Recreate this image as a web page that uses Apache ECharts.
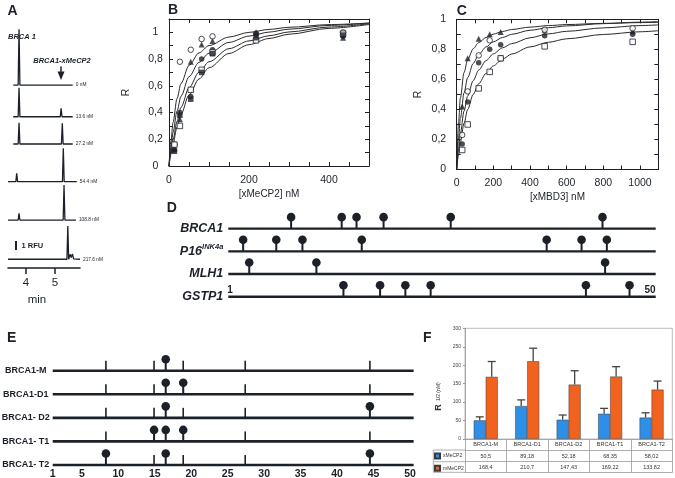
<!DOCTYPE html>
<html><head><meta charset="utf-8">
<script src="https://cdn.jsdelivr.net/npm/echarts@6.0.0/dist/echarts.min.js"></script>
<style>html,body{margin:0;padding:0;background:#fff;}#c{width:675px;height:478px;}</style>
</head><body><div id="c"></div>
<script>
// ---------- Panel A : electropherograms (RFU vs min) ----------
const traceLabels   = ['0 nM', '13.6 nM', '27.2 nM', '54.4 nM', '108.8 nM', '217.6 nM'];
const traceOffsets  = [20.33, 16.81, 13.78, 9.59, 5.33, 0.97];
const traceStart    = [3.56, 3.56, 3.56, 3.38, 3.38, 3.38];
const traceEnd      = [5.61, 5.61, 5.61, 5.75, 5.72, 5.86];
const freeTime      = [3.76, 3.76, 3.76, 3.68, 3.76, null];
const freeHeight    = [6.19, 3.22, 2.37, 0.93, 0.74, 0];
const complexTime   = [null, 5.21, 5.25, 5.285, 5.31, 5.44];
const complexHeight = [0, 0.93, 2.3, 3.71, 3.89, 3.7];
const trace6Tail    = [[5.49, 0.1], [5.52, 0.55], [5.56, 0.2], [5.6, 0.6], [5.64, 0.05]];
const timeTicks     = [4, 5];

// ---------- Panel B : R vs [xMeCP2] ----------
const bConc         = [13.6, 27.2, 54.4, 81.6, 108.8, 217.6, 435.2];
const bOpenCircle   = [0.16, 0.78, 0.87, 0.95, 0.97, 0.99, 1.00];
const bTriangle     = [0.13, 0.35, 0.78, 0.91, 0.935, 1.00, 0.96];
const bFilledCircle = [0.12, 0.40, 0.52, 0.80, 0.87, 0.99, 0.97];
const bOpenSquare   = [0.16, 0.30, 0.57, 0.72, 0.85, 0.94, 0.99];
const bFilledSquare = [0.11, 0.38, 0.50, 0.70, 0.84, 0.96, 0.98];
const bCurveX = [0, 5, 10, 20, 30, 50, 75, 100, 150, 200, 250, 300, 400, 500];
const bCurve1 = [0, 0.19, 0.325, 0.504, 0.617, 0.753, 0.846, 0.901, 0.965, 1.0, 1.022, 1.038, 1.058, 1.070];
const bCurve2 = [0, 0.140, 0.25, 0.411, 0.522, 0.668, 0.776, 0.844, 0.925, 0.972, 1.002, 1.024, 1.052, 1.069];
const bCurve3 = [0, 0.106, 0.195, 0.334, 0.439, 0.585, 0.702, 0.78, 0.878, 0.936, 0.975, 1.003, 1.04, 1.064];
const bCurve4 = [0, 0.089, 0.165, 0.29, 0.388, 0.531, 0.651, 0.735, 0.842, 0.908, 0.954, 0.986, 1.03, 1.059];

// ---------- Panel C : R vs [xMBD3] ----------
const cConc         = [30, 60, 120, 180, 240, 480, 960];
const cTriangle     = [0.42, 0.74, 0.87, 0.90, 0.915, 0.93, 0.92];
const cOpenCircle   = [0.23, 0.52, 0.76, 0.86, 0.74, 0.93, 0.94];
const cFilledCircle = [0.17, 0.45, 0.71, 0.80, 0.83, 0.89, 0.90];
const cOpenSquare   = [0.13, 0.30, 0.54, 0.65, 0.74, 0.82, 0.85];
const cCurveX = [0, 10, 20, 40, 60, 90, 120, 160, 200, 250, 300, 400, 500, 600, 800, 1000, 1100];
const cCurve1 = [0, 0.313, 0.476, 0.645, 0.732, 0.804, 0.845, 0.879, 0.901, 0.919, 0.932, 0.948, 0.958, 0.965, 0.973, 0.978, 0.980];
const cCurve2 = [0, 0.204, 0.34, 0.51, 0.612, 0.706, 0.765, 0.816, 0.85, 0.879, 0.90, 0.927, 0.944, 0.956, 0.971, 0.981, 0.984];
const cCurve3 = [0, 0.136, 0.24, 0.389, 0.49, 0.592, 0.662, 0.725, 0.77, 0.81, 0.838, 0.877, 0.903, 0.92, 0.943, 0.958, 0.963];
const cCurve4 = [0, 0.1, 0.182, 0.308, 0.40, 0.50, 0.571, 0.64, 0.69, 0.735, 0.769, 0.816, 0.847, 0.87, 0.899, 0.917, 0.924];

// ---------- Panel D : CpG maps ----------
const dGenes   = ['BRCA1', 'P16', 'MLH1', 'GSTP1'];
const dGeneSup = ['', 'INK4a', '', ''];
const dSites = [
  [8.2, 14.0, 15.7, 18.8, 26.5, 43.9],
  [2.7, 6.5, 9.5, 16.3, 37.5, 41.5, 44.4],
  [3.4, 11.1, 44.2],
  [14.2, 18.4, 21.3, 24.2, 42.0, 47.0]
];

// ---------- Panel E : methylated BRCA1 probes ----------
const eClones = ['BRCA1-M', 'BRCA1-D1', 'BRCA1- D2', 'BRCA1- T1', 'BRCA1- T2'];
const eSites  = [8.3, 14.9, 16.5, 18.9, 27.4, 44.5];
const eMethylated = [
  [0, 0, 1, 0, 0, 0],
  [0, 0, 1, 1, 0, 0],
  [0, 0, 1, 0, 0, 1],
  [0, 1, 1, 1, 0, 0],
  [1, 0, 1, 0, 0, 1]
];
const ePosTicks = [1, 5, 10, 15, 20, 25, 30, 35, 40, 45, 50];

// ---------- Panel F : R1/2 bars ----------
const fClones   = ['BRCA1-M', 'BRCA1-D1', 'BRCA1-D2', 'BRCA1-T1', 'BRCA1-T2'];
const fXMeCP2   = [50.5, 89.18, 52.18, 68.35, 58.02];
const fMMeCP2   = [168.4, 210.7, 147.43, 169.22, 133.82];
const fXErrTop  = [60, 106, 65, 83, 71];
const fMErrTop  = [210, 246, 185, 196, 157];

// ================= build =================
const ink = '#1b2029';
const FF = 'Liberation Sans';
const chart = echarts.init(document.getElementById('c'));

function commaLabel(v) {
  const r = Math.round(v * 10) / 10;
  if (Math.round(r * 10) % 2 !== 0) return '';
  return String(r).replace('.', ',');
}
function frameAxis(o) {
  return Object.assign({
    type: 'value', splitLine: { show: false },
    axisLine: { show: true, onZero: false, lineStyle: { color: ink, width: 1 } },
    axisTick: { show: true, inside: true, length: 4, lineStyle: { color: ink, width: 1 } },
    axisLabel: { show: false }
  }, o);
}
const tableComma = v => String(v).replace('.', ',');

// A traces
const traceSeries = traceLabels.map((lab, i) => {
  const o = traceOffsets[i];
  const pts = [[traceStart[i], o]];
  [[freeTime[i], freeHeight[i]], [complexTime[i], complexHeight[i]]].forEach(([t, h]) => {
    if (t != null && h > 0) pts.push([t - 0.03, o], [t, o + h], [t + 0.03, o]);
  });
  if (i === 5) trace6Tail.forEach(([t, h]) => pts.push([t, o + h]));
  pts.push([traceEnd[i], o]);
  return {
    type: 'line', name: lab, xAxisIndex: 0, yAxisIndex: 0, data: pts, showSymbol: false,
    lineStyle: { color: ink, width: 1.3 }, silent: true,
    endLabel: { show: true, formatter: '{a}', fontSize: 4.8, color: ink, distance: 3, fontFamily: FF }
  };
});

function curve(xs, ys, xi, yi) {
  return { type: 'line', xAxisIndex: xi, yAxisIndex: yi, data: xs.map((x, k) => [x, ys[k]]),
    showSymbol: false, smooth: 0.3, smoothMonotone: 'x', lineStyle: { color: '#2a2a2a', width: 1 }, silent: true };
}
function marks(xs, ys, xi, yi, symbol, open) {
  return { type: 'scatter', xAxisIndex: xi, yAxisIndex: yi, data: xs.map((x, k) => [x, ys[k]]),
    symbol: symbol, symbolSize: symbol === 'triangle' ? 6 : 5.5, z: 5,
    itemStyle: open ? { color: '#fff', borderColor: ink, borderWidth: 1 } : { color: ink } };
}

function rowItem(width) {
  return (params, api) => {
    const a = api.coord([api.value(0), api.value(2)]);
    const b = api.coord([api.value(1), api.value(2)]);
    return { type: 'line', shape: { x1: a[0], y1: a[1], x2: b[0], y2: b[1] }, style: { stroke: ink, lineWidth: width } };
  };
}
function siteItem(params, api) {
  const p = api.coord([api.value(0), api.value(1)]);
  if (api.value(2)) {
    return { type: 'group', children: [
      { type: 'line', shape: { x1: p[0], y1: p[1], x2: p[0], y2: p[1] - 11 }, style: { stroke: ink, lineWidth: 2 } },
      { type: 'circle', shape: { cx: p[0], cy: p[1] - 11.5, r: 4.3 }, style: { fill: ink } }
    ] };
  }
  return { type: 'line', shape: { x1: p[0], y1: p[1], x2: p[0], y2: p[1] - 10 }, style: { stroke: ink, lineWidth: 1.6 } };
}
function errItem(offset) {
  return (params, api) => {
    const i = api.value(0);
    const a = api.coord([i, api.value(1)]);
    const b = api.coord([i, api.value(2)]);
    const x = a[0] + offset;
    return { type: 'group', children: [
      { type: 'line', shape: { x1: x, y1: a[1], x2: x, y2: b[1] }, style: { stroke: '#444', lineWidth: 1.3 } },
      { type: 'line', shape: { x1: x - 4, y1: b[1], x2: x + 4, y2: b[1] }, style: { stroke: '#444', lineWidth: 1.3 } }
    ] };
  };
}

const dRows = dGenes.map((g, i) => [1, 50, 3 - i]);
const dPins = [];
dSites.forEach((arr, gi) => arr.forEach(p => dPins.push([p, 3 - gi, 1])));
const eRows = eClones.map((c, i) => [1, 50.5, 4 - i]);
const ePins = [];
eMethylated.forEach((row, ri) => row.forEach((m, si) => ePins.push([eSites[si], 4 - ri, m])));

const txt = (x, y, text, size, opts) => ({
  type: 'text', x: x, y: y, silent: true,
  style: Object.assign({ text: text, fill: ink, fontSize: size, fontWeight: 'bold', fontFamily: FF, align: 'center', verticalAlign: 'middle' }, opts || {})
});

const option = {
  animation: false,
  backgroundColor: '#fff',
  textStyle: { fontFamily: FF },
  grid: [
    { left: 8, top: 20, width: 72, height: 248, outerBoundsMode: 'none' },
    { left: 169, top: 19, width: 200, height: 147, outerBoundsMode: 'none' },
    { left: 456.7, top: 19.3, width: 201.6, height: 150.2, outerBoundsMode: 'none' },
    { left: 228.3, top: 217.3, width: 427.4, height: 79.4, outerBoundsMode: 'none' },
    { left: 52.7, top: 358.9, width: 357.3, height: 106.1, outerBoundsMode: 'none' },
    { left: 465, top: 328.3, width: 207.3, height: 110.7, show: true, borderColor: '#aaa', borderWidth: 0.8, outerBoundsMode: 'none' }
  ],
  legend: {
    data: [{ name: 'xMeCP2', icon: 'rect' }, { name: 'mMeCP2', icon: 'rect' }],
    orient: 'vertical', left: 434, top: 452.6, padding: 0, itemWidth: 5, itemHeight: 5, itemGap: 5.2,
    selectedMode: false, textStyle: { fontSize: 5, color: '#333', fontFamily: FF, padding: [0, 0, 0, -2] }
  },
  xAxis: [
    { gridIndex: 0, type: 'value', min: 3.38, max: 5.86, splitLine: { show: false },
      axisLine: { show: true, onZero: false, lineStyle: { color: ink, width: 1.5 } },
      axisTick: { show: true, customValues: timeTicks, length: 6, lineStyle: { color: ink, width: 1.5 } },
      axisLabel: { customValues: timeTicks, fontSize: 11.5, color: ink, margin: 9 },
      name: 'min', nameLocation: 'middle', nameGap: 21, nameTextStyle: { fontSize: 11.5, color: ink, padding: [0, 14, 0, 0] } },
    frameAxis({ gridIndex: 1, min: 0, max: 500, interval: 50, position: 'bottom',
      axisLabel: { show: true, formatter: v => (v % 200 === 0 ? String(v) : ''), fontSize: 10.5, color: ink, margin: 9 },
      name: '[xMeCP2] nM', nameLocation: 'middle', nameGap: 23, nameTextStyle: { fontSize: 10, color: ink } }),
    frameAxis({ gridIndex: 1, min: 0, max: 500, interval: 50, position: 'top' }),
    frameAxis({ gridIndex: 2, min: 0, max: 1100, interval: 100, position: 'bottom',
      axisLabel: { show: true, formatter: v => (v % 200 === 0 ? String(v) : ''), fontSize: 10.5, color: ink, margin: 8 },
      name: '[xMBD3] nM', nameLocation: 'middle', nameGap: 23, nameTextStyle: { fontSize: 10, color: ink } }),
    frameAxis({ gridIndex: 2, min: 0, max: 1100, interval: 100, position: 'top' }),
    { gridIndex: 3, type: 'value', min: 1, max: 50, show: false },
    { gridIndex: 4, type: 'value', min: 1, max: 50, splitLine: { show: false },
      axisLine: { show: false }, axisTick: { show: false },
      axisLabel: { customValues: ePosTicks, fontSize: 10.5, fontWeight: 'bold', color: ink, margin: 3.5 } },
    { gridIndex: 5, type: 'category', data: fClones, position: 'bottom',
      axisLine: { show: true, onZero: false, lineStyle: { color: '#999', width: 0.8 } },
      axisTick: { show: true, interval: 0, length: 33.3, lineStyle: { color: '#999', width: 0.8 } },
      axisLabel: { fontSize: 5.5, color: '#333', margin: 2.5, interval: 0 } },
    { gridIndex: 5, type: 'category', data: fClones, position: 'bottom', offset: 11,
      axisLine: { show: true, onZero: false, lineStyle: { color: '#999', width: 0.8 } }, axisTick: { show: false },
      axisLabel: { interval: 0, fontSize: 5.5, color: '#333', margin: 3, formatter: (v, i) => tableComma(fXMeCP2[i]) } },
    { gridIndex: 5, type: 'category', data: fClones, position: 'bottom', offset: 22.7,
      axisLine: { show: true, onZero: false, lineStyle: { color: '#999', width: 0.8 } }, axisTick: { show: false },
      axisLabel: { interval: 0, fontSize: 5.5, color: '#333', margin: 3, formatter: (v, i) => tableComma(fMMeCP2[i]) } },
    { gridIndex: 5, type: 'category', data: fClones, position: 'bottom', offset: 33.3,
      axisLine: { show: true, onZero: false, lineStyle: { color: '#999', width: 0.8 } }, axisTick: { show: false },
      axisLabel: { show: false } }
  ],
  yAxis: [
    { gridIndex: 0, type: 'value', min: 0, max: 27.56, show: false },
    frameAxis({ gridIndex: 1, min: 0, max: 1.1, interval: 0.1, position: 'left',
      axisLabel: { show: true, formatter: commaLabel, fontSize: 10.5, color: ink, align: 'center', margin: 13.5 },
      name: 'R', nameLocation: 'middle', nameGap: 37, nameRotate: 90, nameTextStyle: { fontSize: 10.5, color: ink } }),
    frameAxis({ gridIndex: 1, min: 0, max: 1.1, interval: 0.1, position: 'right' }),
    frameAxis({ gridIndex: 2, min: 0, max: 1, interval: 0.1, position: 'left',
      axisLabel: { show: true, formatter: commaLabel, fontSize: 10.5, color: ink, margin: 10.5 },
      name: 'R', nameLocation: 'middle', nameGap: 33, nameRotate: 90, nameTextStyle: { fontSize: 10.5, color: ink } }),
    frameAxis({ gridIndex: 2, min: 0, max: 1, interval: 0.1, position: 'right' }),
    { gridIndex: 3, type: 'value', min: 0, max: 3.5, interval: 1, splitLine: { show: false },
      axisLine: { show: false }, axisTick: { show: false },
      axisLabel: { margin: 5, formatter: v => {
          if (v !== Math.round(v) || v < 0 || v > 3) return '';
          const i = 3 - v;
          return '{g|' + dGenes[i] + '}' + (dGeneSup[i] ? '{sup|' + dGeneSup[i] + '}' : '');
        },
        rich: {
          g: { fontSize: 12.5, fontWeight: 'bold', fontStyle: 'italic', color: ink, fontFamily: FF },
          sup: { fontSize: 7.5, fontWeight: 'bold', fontStyle: 'italic', color: ink, fontFamily: FF, padding: [0, 0, 8, 0] }
        } } },
    { gridIndex: 4, type: 'value', min: 0, max: 4.5, interval: 1, splitLine: { show: false },
      axisLine: { show: false }, axisTick: { show: false },
      axisLabel: { formatter: v => (v === Math.round(v) && eClones[4 - v]) || '', align: 'center', margin: 27,
        fontSize: 9, fontWeight: 'bold', color: ink, padding: [0, 0, 7, 0] } },
    { gridIndex: 5, type: 'value', min: 0, max: 300, interval: 50, splitLine: { show: false },
      axisLine: { show: true, lineStyle: { color: '#999', width: 0.8 } },
      axisTick: { show: true, length: 2, lineStyle: { color: '#999' } },
      axisLabel: { fontSize: 5, color: '#444', margin: 4 },
      name: '{r|R} {s|1/2 (nM)}', nameLocation: 'middle', nameGap: 20, nameRotate: 90,
      nameTextStyle: { padding: [0, 26, 0, 0], rich: { r: { fontSize: 9, fontWeight: 'bold', color: '#333' }, s: { fontSize: 5, color: '#333' } } } }
  ],
  series: [
    ...traceSeries,
    curve(bCurveX, bCurve1, 1, 1), curve(bCurveX, bCurve2, 1, 1), curve(bCurveX, bCurve3, 1, 1), curve(bCurveX, bCurve4, 1, 1),
    marks(bConc, bOpenCircle, 1, 1, 'circle', true),
    marks(bConc, bTriangle, 1, 1, 'triangle', false),
    marks(bConc, bFilledCircle, 1, 1, 'circle', false),
    marks(bConc, bOpenSquare, 1, 1, 'rect', true),
    marks(bConc, bFilledSquare, 1, 1, 'rect', false),
    curve(cCurveX, cCurve1, 3, 3), curve(cCurveX, cCurve2, 3, 3), curve(cCurveX, cCurve3, 3, 3), curve(cCurveX, cCurve4, 3, 3),
    marks(cConc, cTriangle, 3, 3, 'triangle', false),
    marks(cConc, cOpenCircle, 3, 3, 'circle', true),
    marks(cConc, cFilledCircle, 3, 3, 'circle', false),
    marks(cConc, cOpenSquare, 3, 3, 'rect', true),
    { type: 'custom', xAxisIndex: 5, yAxisIndex: 5, data: dRows, encode: { x: [0, 1], y: 2 }, renderItem: rowItem(2.4), silent: true },
    { type: 'custom', xAxisIndex: 5, yAxisIndex: 5, data: dPins, encode: { x: 0, y: 1 }, renderItem: siteItem, silent: true },
    { type: 'custom', xAxisIndex: 6, yAxisIndex: 6, data: eRows, encode: { x: [0, 1], y: 2 }, renderItem: rowItem(2.6), silent: true },
    { type: 'custom', xAxisIndex: 6, yAxisIndex: 6, data: ePins, encode: { x: 0, y: 1 }, renderItem: siteItem, silent: true },
    { type: 'bar', name: 'xMeCP2', xAxisIndex: 7, yAxisIndex: 7, data: fXMeCP2, barWidth: 12, barGap: '0%',
      itemStyle: { color: '#2f8fe6', borderColor: '#3a3a3a', borderWidth: 0.5 } },
    { type: 'bar', name: 'mMeCP2', xAxisIndex: 7, yAxisIndex: 7, data: fMMeCP2, barWidth: 12, barGap: '0%',
      itemStyle: { color: '#f2621f', borderColor: '#3a3a3a', borderWidth: 0.5 } },
    { type: 'custom', xAxisIndex: 7, yAxisIndex: 7, data: fClones.map((c, i) => [i, fXMeCP2[i], fXErrTop[i]]),
      encode: { x: 0, y: [1, 2] }, renderItem: errItem(-6), silent: true, z: 5 },
    { type: 'custom', xAxisIndex: 7, yAxisIndex: 7, data: fClones.map((c, i) => [i, fMMeCP2[i], fMErrTop[i]]),
      encode: { x: 0, y: [1, 2] }, renderItem: errItem(6), silent: true, z: 5 }
  ],
  graphic: [
    txt(12.5, 11.5, 'A', 14), txt(173, 10.5, 'B', 14), txt(461.7, 11.5, 'C', 14),
    txt(171.7, 208, 'D', 14), txt(11.7, 338, 'E', 14), txt(427.3, 338, 'F', 14),
    txt(8, 37, 'BRCA 1', 7.5, { align: 'left', fontStyle: 'italic' }),
    txt(62, 61, 'BRCA1-xMeCP2', 7.5, { fontStyle: 'italic' }),
    { type: 'line', silent: true, shape: { x1: 61, y1: 66.5, x2: 61, y2: 73 }, style: { stroke: ink, lineWidth: 1.5 } },
    { type: 'polygon', silent: true, shape: { points: [[57.5, 71.5], [64.5, 71.5], [61, 80]] }, style: { fill: ink } },
    { type: 'line', silent: true, shape: { x1: 16, y1: 241, x2: 16, y2: 250 }, style: { stroke: ink, lineWidth: 2 } },
    txt(21.5, 245.5, '1 RFU', 7.5, { align: 'left' }),
    txt(230, 290, '1', 10), txt(650, 290, '50', 10),
    { type: 'polyline', silent: true, shape: { points: [[465, 450], [433.3, 450], [433.3, 472.3], [465, 472.3]] }, style: { stroke: '#999', lineWidth: 0.8, fill: null } },
    { type: 'line', silent: true, shape: { x1: 433.3, y1: 461.7, x2: 465, y2: 461.7 }, style: { stroke: '#999', lineWidth: 0.8 } }
  ]
};
chart.setOption(option);
</script></body></html>
